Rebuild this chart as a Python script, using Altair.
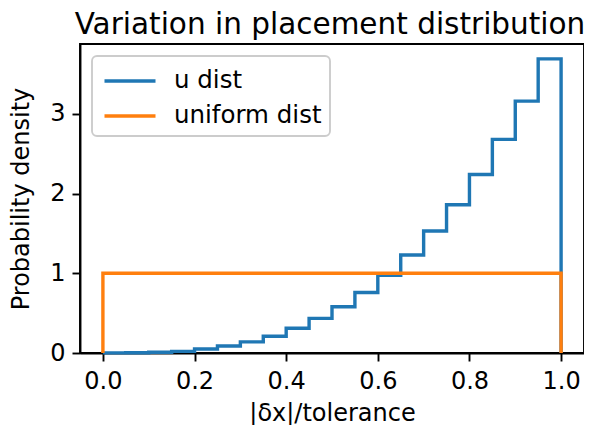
import altair as alt
import pandas as pd

bin_edges = [round(i * 0.05, 2) for i in range(21)]
u_heights = [0.001, 0.004, 0.01, 0.02, 0.05, 0.088, 0.14, 0.21, 0.31, 0.435,
             0.58, 0.76, 0.975, 1.23, 1.53, 1.86, 2.24, 2.68, 3.16, 3.69]
uniform_heights = [1.0] * 20
series_names = ["u dist", "uniform dist"]
x_ticks = [0.0, 0.2, 0.4, 0.6, 0.8, 1.0]
y_ticks = [0, 1, 2, 3]


def outline(edges, heights, name):
    rows = [(edges[0], 0.0)]
    for i, h in enumerate(heights):
        rows.append((edges[i], h))
        rows.append((edges[i + 1], h))
    rows.append((edges[-1], 0.0))
    return [{"x": x, "y": y, "series": name, "order": k} for k, (x, y) in enumerate(rows)]


df = pd.DataFrame(outline(bin_edges, u_heights, series_names[0])
                  + outline(bin_edges, uniform_heights, series_names[1]))

FONT = "DejaVu Sans"

chart = alt.Chart(df).mark_line(strokeWidth=3.4, strokeCap="butt", strokeJoin="miter").encode(
    x=alt.X("x:Q", scale=alt.Scale(domain=[-0.05, 1.05], nice=False, zero=False),
            axis=alt.Axis(values=x_ticks, format=".1f", title="|δx|/tolerance",
                          titlePadding=8)),
    y=alt.Y("y:Q", scale=alt.Scale(domain=[0, 3.877], nice=False),
            axis=alt.Axis(values=y_ticks, format="d", title="Probability density",
                          titlePadding=16, labelPadding=7)),
    color=alt.Color("series:N", scale=alt.Scale(domain=series_names, range=["#1f77b4", "#ff7f0e"]),
                    legend=alt.Legend(title=None, orient="top-left", offset=12,
                                      symbolType="M-1.7,0H1.7", symbolSize=900,
                                      symbolStrokeWidth=3.4, symbolOffset=13,
                                      labelFontSize=24.5,
                                      labelFont=FONT, labelColor="black",
                                      fillColor="rgba(255,255,255,0.8)",
                                      strokeColor="#cccccc",
                                      cornerRadius=5, padding=8, rowPadding=6,
                                      labelOffset=27)),
    order="order:Q",
).properties(
    width=504, height=309,
    title=alt.TitleParams("Variation in placement distribution", fontSize=29.5, font=FONT,
                          fontWeight="normal", color="black", anchor="middle",
                          baseline="bottom", offset=6, dx=-2, dy=31),
    autosize=alt.AutoSizeParams(type="none"),
    padding={"left": 72, "top": 36, "right": 0, "bottom": 72},
).configure_view(stroke="black", strokeWidth=1.9).configure_axis(
    grid=False, domainColor="black", domainWidth=1.9, tickColor="black", tickWidth=1.9,
    tickSize=8, labelFontSize=24, labelFont=FONT, labelColor="black", labelPadding=8,
    titleFontSize=24, titleFont=FONT, titleFontWeight="normal", titleColor="black",
    labelFlush=False, labelOverlap=False,
).configure_legend(strokeWidth=1.9)

chart.save("out.html", embed_options={"renderer": "svg", "actions": False})
